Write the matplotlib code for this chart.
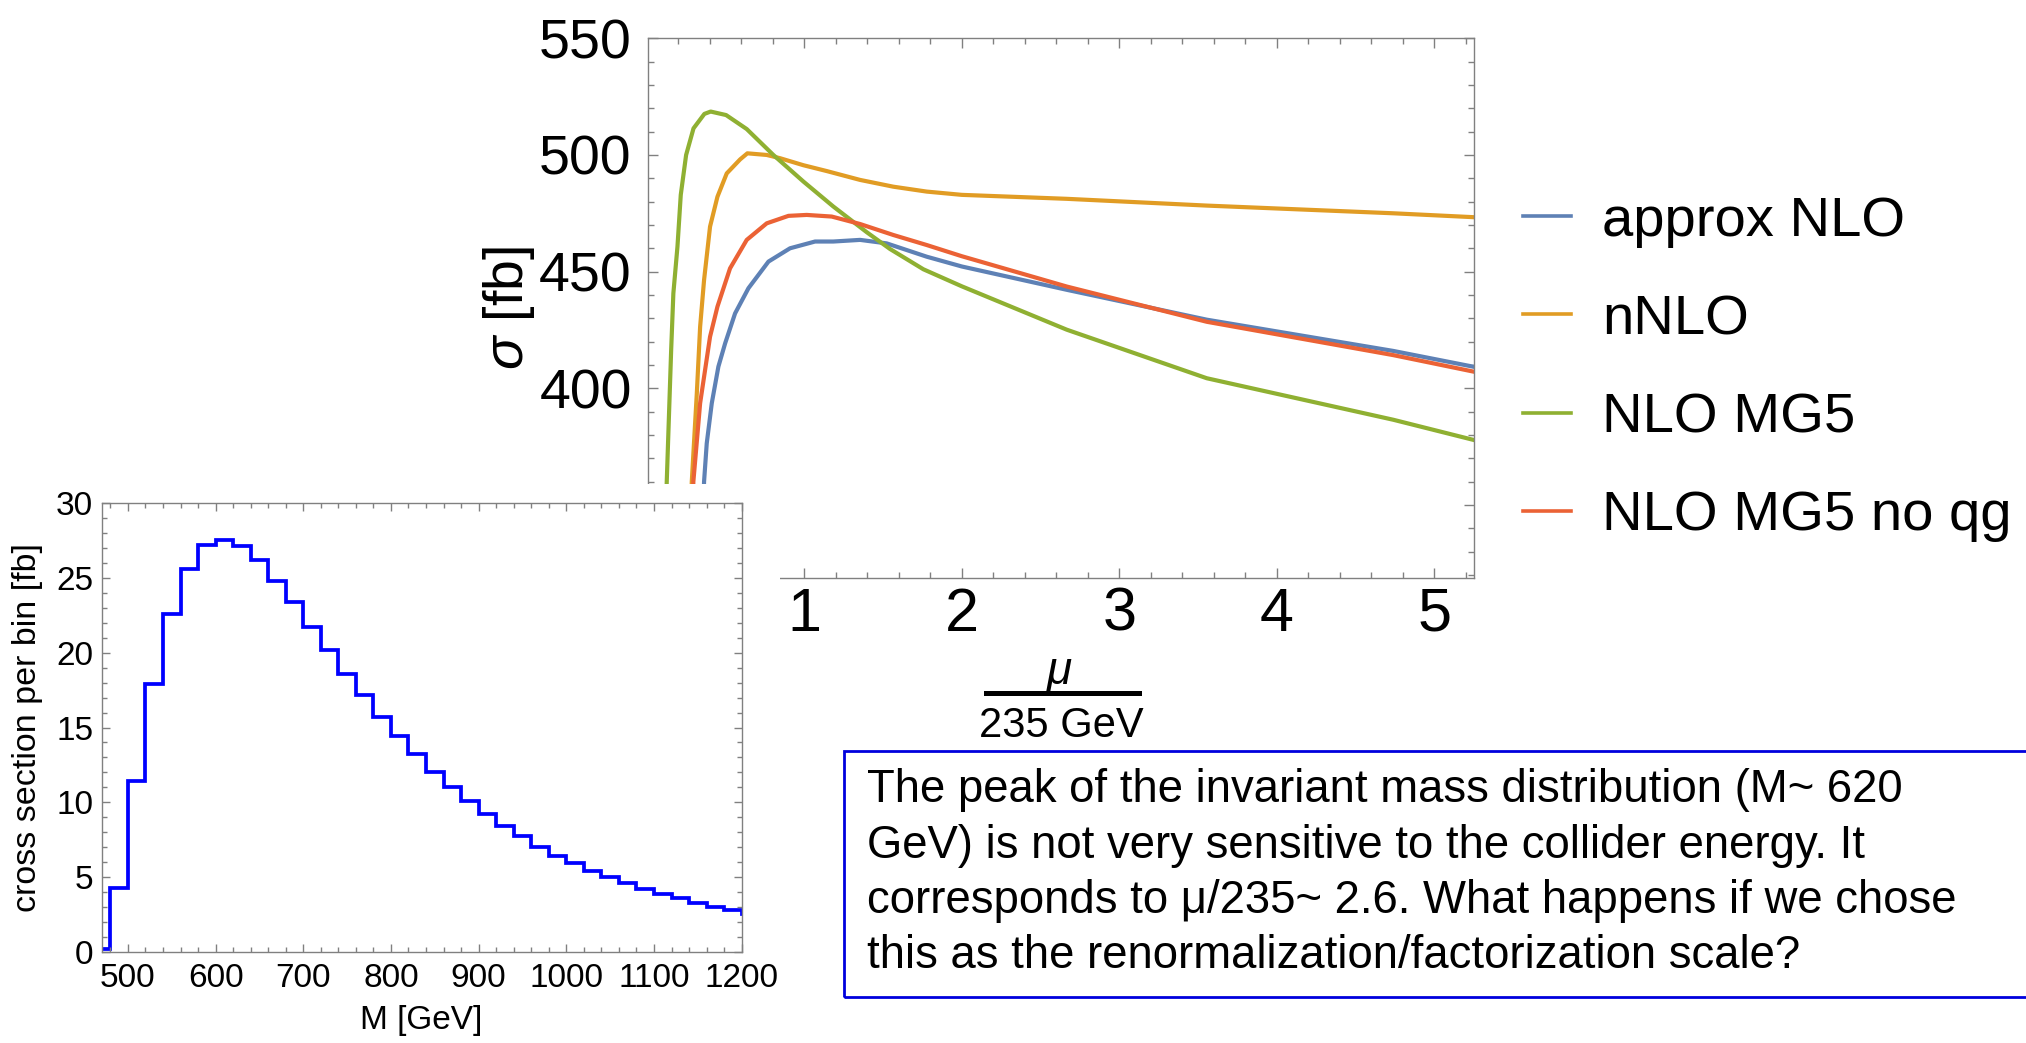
import matplotlib
matplotlib.use("Agg")
import matplotlib.pyplot as plt
from matplotlib.lines import Line2D
from matplotlib.patches import Rectangle
from matplotlib.ticker import MultipleLocator

plt.rcParams['font.family'] = ['Liberation Sans', 'DejaVu Sans']
plt.rcParams['mathtext.fontset'] = 'custom'
plt.rcParams['mathtext.it'] = 'Liberation Sans:italic'
plt.rcParams['mathtext.rm'] = 'Liberation Sans'

# cross section vs scale, x = mu / 235 GeV, sigma in fb
mu_approx = [0.34, 0.363, 0.380, 0.412, 0.454, 0.497, 0.56, 0.645, 0.772, 0.909, 1.068,
             1.184, 1.354, 1.523, 1.777, 2.0, 2.667, 3.556, 4.741, 5.26]
sig_approx = [300, 360, 376.4, 393.6, 409.3, 419.3, 432.1, 442.9, 454.3, 460.0, 462.9,
              462.9, 463.6, 462.1, 456.4, 452.2, 442.2, 429.4, 416.0, 409.1]

mu_nnlo = [0.26, 0.285, 0.317, 0.338, 0.363, 0.401, 0.448, 0.507, 0.592, 0.638, 0.761,
           0.846, 0.994, 1.142, 1.354, 1.565, 1.777, 2.0, 2.667, 3.556, 4.741, 5.26]
sig_nnlo = [300, 360, 397.9, 426.4, 446.4, 469.3, 482.1, 492.1, 498.1, 500.7, 500.0,
            498.6, 495.6, 493.1, 489.3, 486.4, 484.3, 482.9, 481.2, 478.3, 475.0, 473.3]

mu_mg5 = [0.10, 0.126, 0.154, 0.168, 0.194, 0.215, 0.249, 0.296, 0.365, 0.405, 0.503,
          0.634, 0.803, 0.994, 1.184, 1.396, 1.544, 1.756, 2.0, 2.667, 3.556, 4.741, 5.26]
sig_mg5 = [300, 360, 416.4, 440.7, 460.7, 482.9, 500.0, 511.4, 517.6, 518.6, 517.1,
           511.1, 500.0, 488.6, 477.9, 466.9, 459.7, 451.0, 443.7, 425.1, 404.3, 386.5, 377.7]

mu_noqg = [0.27, 0.295, 0.338, 0.401, 0.448, 0.528, 0.634, 0.761, 0.899, 1.015, 1.174,
           1.354, 1.565, 1.777, 2.0, 2.667, 3.556, 4.741, 5.26]
sig_noqg = [300, 360, 393.6, 422.1, 435.0, 451.4, 463.6, 470.7, 473.9, 474.3, 473.6,
            470.4, 465.7, 461.4, 456.6, 443.6, 428.5, 414.2, 407.0]

series = [
    ("approx NLO", mu_approx, sig_approx, '#5E81B5'),
    ("nNLO", mu_nnlo, sig_nnlo, '#E19C24'),
    ("NLO MG5", mu_mg5, sig_mg5, '#8FB032'),
    ("NLO MG5 no qg", mu_noqg, sig_noqg, '#EB6235'),
]

# invariant mass histogram, 20 GeV bins
mass_edges = list(range(460, 1221, 20))
xsec_bins = [0.2, 4.3, 11.4, 17.9, 22.6, 25.6, 27.2, 27.5, 27.1, 26.2, 24.75, 23.35,
             21.7, 20.2, 18.6, 17.2, 15.7, 14.45, 13.2, 12.05, 11.05, 10.1, 9.2, 8.45,
             7.75, 7.05, 6.45, 5.95, 5.45, 5.05, 4.65, 4.25, 3.9, 3.6, 3.3, 3.0, 2.85, 2.55]

note_lines = [
    "The peak of the invariant mass distribution (M~ 620",
    "GeV) is not very sensitive to the collider energy. It",
    "corresponds to \u03bc/235~ 2.6. What happens if we chose",
    "this as the renormalization/factorization scale?",
]

W, H = 2026, 1043
fig = plt.figure(figsize=(W / 100, H / 100), dpi=100)


def box(x0, y0, x1, y1):
    # pixel box (top-left origin) -> figure fraction rect
    return [x0 / W, 1 - y1 / H, (x1 - x0) / W, (y1 - y0) / H]


def fx(x):
    return x / W


def fy(y):
    return 1 - y / H


frame_grey = '#808080'

# ---- main scale plot
ax = fig.add_axes(box(647.7, 38.3, 1474.3, 577.5), zorder=0)
handles = []
for label, x, y, c in series:
    ln, = ax.plot(x, y, color=c, lw=3.0, label=label, solid_joinstyle='round')
    handles.append(ln)
ax.set_xlim(0.005, 5.255)
ax.set_ylim(318.9, 550)
ax.xaxis.set_major_locator(MultipleLocator(1))
ax.xaxis.set_minor_locator(MultipleLocator(0.2))
ax.yaxis.set_major_locator(MultipleLocator(50))
ax.yaxis.set_minor_locator(MultipleLocator(10))
for sp in ax.spines.values():
    sp.set_color(frame_grey)
    sp.set_linewidth(1.0)
ax.tick_params(which='both', direction='in', top=True, right=True, color=frame_grey, width=1)
ax.tick_params(which='major', length=7)
ax.tick_params(which='minor', length=4.3)
ax.tick_params(axis='x', labelsize=44, pad=6.5)
ax.tick_params(axis='y', labelsize=40, pad=11.5)

fig.text(fx(509), fy(308), r'$\sigma$ [fb]', rotation=90, ha='center', va='center', fontsize=40)

# x label as a stacked fraction
fig.text(fx(1060), fy(683), r'$\mu$', ha='center', va='baseline', fontsize=33)
fig.add_artist(Line2D([fx(986), fx(1139)], [fy(692.7), fy(692.7)], transform=fig.transFigure,
                      color='black', lw=3.6))
fig.text(fx(1061.5), fy(736.7), '235 GeV', ha='center', va='baseline', fontsize=30)

leg = fig.legend(handles=handles, loc='upper left', bbox_to_anchor=(fx(1523), fy(196)),
                 frameon=False, borderpad=0, borderaxespad=0, handlelength=0.86,
                 handletextpad=0.55, labelspacing=0.82, prop={'size': 40.5})
for ln in leg.get_lines():
    ln.set_linewidth(2.6)

# ---- white panel with the mass histogram on top
fig.add_artist(Rectangle((0, 0), fx(780), fy(484), transform=fig.transFigure,
                         facecolor='white', edgecolor='none', zorder=2))

axh = fig.add_axes(box(101.6, 502.7, 741.7, 952.3), zorder=3)
axh.stairs(xsec_bins, mass_edges, color='#0000FF', lw=2.7)
axh.set_xlim(470, 1200)
axh.set_ylim(0, 30)
axh.xaxis.set_major_locator(MultipleLocator(100))
axh.xaxis.set_minor_locator(MultipleLocator(20))
axh.yaxis.set_major_locator(MultipleLocator(5))
axh.yaxis.set_minor_locator(MultipleLocator(1))
for sp in axh.spines.values():
    sp.set_color(frame_grey)
    sp.set_linewidth(1.0)
axh.tick_params(which='both', direction='in', top=True, right=True, color=frame_grey, width=1)
axh.tick_params(which='major', length=6)
axh.tick_params(which='minor', length=3.6)
axh.tick_params(axis='x', labelsize=24, pad=8)
axh.tick_params(axis='y', labelsize=24, pad=6)
axh.set_xlabel('M [GeV]', fontsize=24)
axh.set_ylabel('cross section per bin [fb]', fontsize=24.5)
axh.xaxis.set_label_coords(0.5, -0.118)
axh.yaxis.set_label_coords(-0.0908, 0.5)

# ---- comment box
fig.add_artist(Rectangle((fx(844), fy(997)), fx(2060) - fx(844), fy(750.7) - fy(997),
                         transform=fig.transFigure, fill=False, edgecolor='#0000DD',
                         lw=2.0, clip_on=False, zorder=4))
for i, line in enumerate(note_lines):
    fig.text(fx(866.7), fy(802 + i * 55.5), line, fontsize=32.8, va='baseline', ha='left')

fig.savefig('out.png', dpi=100)
